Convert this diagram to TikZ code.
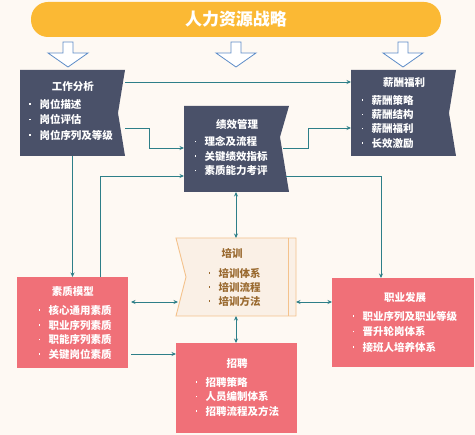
\documentclass[tikz,border=0pt]{standalone}
\usepackage{fontspec}
\newfontfamily\cjk{Noto Sans CJK SC}
\usetikzlibrary{arrows.meta,calc}
\definecolor{bg}{HTML}{FEF9F3}
\definecolor{banner}{HTML}{FBB934}
\definecolor{darkbox}{HTML}{4A5169}
\definecolor{pinkbox}{HTML}{F07078}
\definecolor{trainfill}{HTML}{FAF0E6}
\definecolor{trainline}{HTML}{F4C28C}
\definecolor{traintext}{HTML}{9A6A30}
\definecolor{tealc}{HTML}{2D7F88}
\definecolor{arrowblue}{HTML}{5E8DC8}
\newcommand\dotitem{\makebox[10pt][l]{\raisebox{0.33em}{\rule{1.6pt}{1.6pt}}}}
\begin{document}
\begin{tikzpicture}[x=1pt,y=-1pt,
  every node/.style={inner sep=0pt, outer sep=0pt},
  frame/.style 2 args={minimum width=#1, minimum height=#2},
  darknotch/.style 2 args={path picture={\fill[darkbox]
     (path picture bounding box.north west) -- (path picture bounding box.north east)
     -- ($(path picture bounding box.east)+(-#1,#2)$)
     -- (path picture bounding box.south east) -- (path picture bounding box.south west) -- cycle;}},
  pink/.style={fill=pinkbox},
  ttl/.style={text=white, font=\cjk\bfseries\fontsize{10.5}{12}\selectfont},
  lst/.style={text=white, align=left, anchor=west, font=\cjk\bfseries\fontsize{10.5}{#1}\selectfont},
  conn/.style={draw=tealc, line width=0.8pt, -{Stealth[length=4.5pt,width=4pt]}},
  dconn/.style={draw=tealc, line width=0.8pt, {Stealth[length=4.5pt,width=4pt]}-{Stealth[length=4.5pt,width=4pt]}},
  downarrow/.style={draw=arrowblue, fill=white, line width=0.8pt}
]
\fill[bg] (0,0) rectangle (475,435);
\useasboundingbox (0,0) rectangle (475,435);

% banner
\node[fill=banner, rounded corners=17pt, minimum width=410pt, minimum height=35pt,
  text=white, font=\cjk\bfseries\fontsize{17}{20}\selectfont] (hr) at (236,19.5) {人力资源战略};

% down arrows
\foreach \x in {68,236,403}
  \draw[downarrow] (\x-5,42) -- (\x+5,42) -- (\x+5,53) -- (\x+20,53) -- (\x,67) -- (\x-20,53) -- (\x-5,53) -- cycle;

% boxes
\node[frame={105pt}{86pt}, darknotch={7}{0}] (ja) at (72.5,113) {};
\node[frame={105pt}{86pt}, darknotch={9}{-12}] (jx) at (236.5,149) {};
\node[frame={105pt}{86pt}, darknotch={7}{0}] (xc) at (403.5,113) {};
\node[frame={120pt}{78pt}] (px) at (236,277) {};
\draw[trainline, fill=trainfill, line width=0.9pt] (px.north west) -- (px.north east) -- (px.south east)
  -- (px.south west) -- ($(px.west)+(10,0)$) -- cycle;
\draw[trainline, line width=0.9pt] ($(px.north east)+(-8,0)$) -- ($(px.south east)+(-8,0)$);
\node[frame={111pt}{91pt}, pink] (sz) at (72.5,322.5) {};
\node[frame={142pt}{89pt}, pink] (zy) at (403,322.5) {};
\node[frame={121pt}{90pt}, pink] (zp) at (236.5,388) {};

% connectors
\draw[conn] (ja.east |- 0,82) -- (xc.west |- 0,82);
\draw[conn] (ja.east |- 0,128) -- (149,128) -- (149,148) -- (jx.west |- 0,148);
\draw[conn] ($(jx.east |- 0,148)+(-6,0)$) -- (308,148) -- (308,128) -- (xc.west |- 0,128);
\draw[conn] (sz.north -| 100,0) -- (100,176) -- (jx.west |- 0,176);
\draw[conn] ($(jx.east |- 0,176)+(-3,0)$) -- (381,176) -- (zy.north -| 381,0);
\draw[conn] (ja.south) -- (sz.north -| ja.south);
\draw[dconn] (px.north |- jx.south) -- (px.north);
\draw[dconn] (px.south) -- (zp.north -| px.south);
\draw[dconn, shorten <=3pt] (sz.east |- 0,302) -- ($(px.west |- 0,302)+(2,0)$);
\draw[dconn] (px.east |- 0,302) -- (zy.west |- 0,302);
\draw[conn, shorten <=3pt] (sz.east |- 0,354) -- (zp.west |- 0,354);

% texts
\node[ttl] (jat) at (73,87) {工作分析};
\node[lst=15.5pt] (jal) at (29.5,119.7) {\dotitem 岗位描述\\\dotitem 岗位评估\\\dotitem 岗位序列及等级};
\node[ttl] (jxt) at (237,124) {绩效管理};
\node[lst=14.5pt] (jxl) at (194.5,156.3) {\dotitem 理念及流程\\\dotitem 关键绩效指标\\\dotitem 素质能力考评};
\node[ttl] (xct) at (404,83) {薪酬福利};
\node[lst=14.3pt] (xcl) at (361.5,121.8) {\dotitem 薪酬策略\\\dotitem 薪酬结构\\\dotitem 薪酬福利\\\dotitem 长效激励};
\node[ttl, text=traintext] (pxt) at (232,253) {培训};
\node[lst=14pt, text=traintext] (pxl) at (208.5,287) {\dotitem 培训体系\\\dotitem 培训流程\\\dotitem 培训方法};
\node[ttl] (szt) at (73,291) {素质模型};
\node[lst=14.7pt] (szl) at (38.5,332.5) {\dotitem 核心通用素质\\\dotitem 职业序列素质\\\dotitem 职能序列素质\\\dotitem 关键岗位素质};
\node[ttl] (zyt) at (405,298) {职业发展};
\node[lst=15.5pt] (zyl) at (352.5,331.7) {\dotitem 职业序列及职业等级\\\dotitem 晋升轮岗体系\\\dotitem 接班人培养体系};
\node[ttl] (zpt) at (237,364) {招聘};
\node[lst=14.5pt] (zpl) at (195.5,396.7) {\dotitem 招聘策略\\\dotitem 人员编制体系\\\dotitem 招聘流程及方法};
\end{tikzpicture}
\end{document}
